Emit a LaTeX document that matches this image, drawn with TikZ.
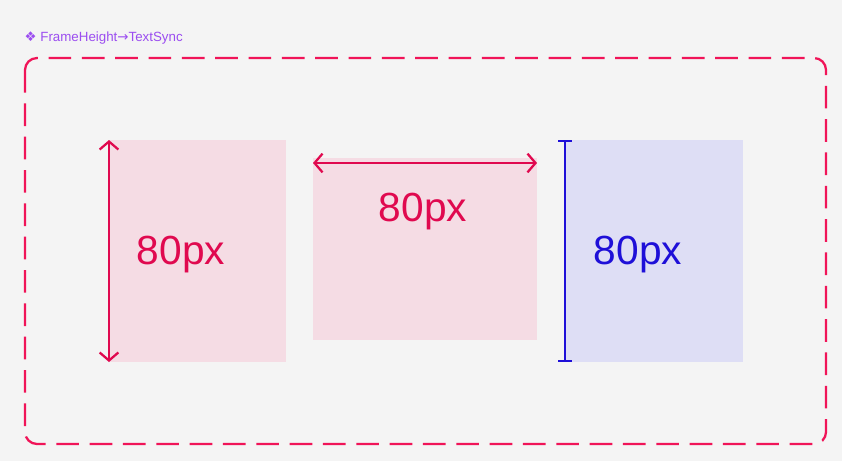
\documentclass[tikz,border=0pt]{standalone}
\usepackage{fontspec}
\setmainfont{Liberation Sans}
\newfontfamily\symfont{DejaVu Sans}
\usetikzlibrary{arrows.meta}
\definecolor{bgc}{HTML}{F4F4F4}
\definecolor{redc}{HTML}{E0094F}
\definecolor{framec}{HTML}{F01458}
\definecolor{pinkc}{HTML}{F5DCE4}
\definecolor{bluec}{HTML}{1E0FD8}
\definecolor{lbluec}{HTML}{DEDEF5}
\definecolor{purpc}{HTML}{9B4DF0}
\begin{document}
\begin{tikzpicture}[x=0.75pt,y=-0.75pt,
		dim/.style={line width=1.7pt},
		numlabel/.style={font=\fontsize{30.5}{33}\selectfont}
	]
	\fill[bgc] (0,0) rectangle (842,461);
	\useasboundingbox (0,0) rectangle (842,461);
	\node (title) [anchor=west,text=purpc,font=\fontsize{10}{12}\selectfont] at (20,38) {{\symfont ❖} FrameHeight{\symfont →}TextSync};
	\draw[framec,line width=1.7pt,dash pattern=on 17pt off 8pt,rounded corners=9pt] (25,58) rectangle (826,444);

	% boxes
	\fill[pinkc] (110,140) rectangle (286,362);
	\fill[pinkc] (313,158) rectangle (537,340);
	\fill[lbluec] (565,140) rectangle (743,362);

	% dimension lines
	\coordinate (h1) at (109,140);
	\coordinate (h2) at (109,362);
	\coordinate (w1) at (313,163);
	\coordinate (w2) at (537,163);
	\coordinate (b1) at (565,140);
	\coordinate (b2) at (565,362);
	\draw[dim,redc,{Straight Barb[length=6pt,width=14pt]}-{Straight Barb[length=6pt,width=14pt]}] (h1) -- (h2);
	\draw[dim,redc,{Straight Barb[length=6pt,width=14pt]}-{Straight Barb[length=6pt,width=14pt]}] (w1) -- (w2);
	\draw[dim,bluec,{Bar[width=10pt]}-{Bar[width=10pt]}] (b1) -- (b2);

	% labels
	\node (lab1) [numlabel,text=redc] at (181,255) {80px};
	\node (lab2) [numlabel,text=redc] at (423,212) {80px};
	\node (lab3) [numlabel,text=bluec] at (638,255) {80px};
\end{tikzpicture}
\end{document}
